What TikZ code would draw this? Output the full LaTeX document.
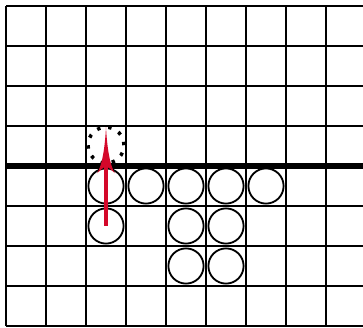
\documentclass[tikz,border=0pt]{standalone}
\usetikzlibrary{calc}
\definecolor{arrowred}{RGB}{212,8,42}
\tikzset{
  gridline/.style={line width=1.45pt, black},
  barline/.style={line width=3.8pt, black},
  stone/.style={circle, draw, line width=1.3pt, minimum size=0.88cm, inner sep=0pt},
  ghost/.style={circle, draw, line width=2.5pt, minimum size=0.9cm, inner sep=0pt,
    dash pattern=on 0.085cm off 0.1977cm},
  shaft/.style={line width=2.3pt, arrowred},
}
\begin{document}
\begin{tikzpicture}
\useasboundingbox (-0.15,-0.025) rectangle (8.925,8.15);
% grid
\foreach \i in {0,...,8} {
  \draw[gridline] (\i,0) -- (\i,8);
  \draw[gridline] (0,\i) -- (8.925,\i);
}
\draw[barline] (0,4) -- (8.925,4);
% stones
\node[stone] (s1) at (2.5,3.5) {};
\node[stone] (s2) at (3.5,3.5) {};
\node[stone] (s3) at (4.5,3.5) {};
\node[stone] (s4) at (5.5,3.5) {};
\node[stone] (s5) at (6.5,3.5) {};
\node[stone] (s6) at (2.5,2.5) {};
\node[stone] (s7) at (4.5,2.5) {};
\node[stone] (s8) at (5.5,2.5) {};
\node[stone] (s9) at (4.5,1.5) {};
\node[stone] (s10) at (5.5,1.5) {};
% target
\node[ghost] (g) at (2.5,4.52) {};
% arrow
\coordinate (tip) at (2.5,4.97);
\draw[shaft] (s6.center) -- ($(tip)+(0,-0.8)$);
\fill[arrowred] (tip)
  .. controls ($(tip)+(-0.03,-0.55)$) and ($(tip)+(-0.1,-0.95)$) .. ($(tip)+(-0.22,-1.15)$)
  .. controls ($(tip)+(-0.12,-1.05)$) and ($(tip)+(-0.05,-1.0)$) .. ($(tip)+(0,-0.97)$)
  .. controls ($(tip)+(0.05,-1.0)$) and ($(tip)+(0.12,-1.05)$) .. ($(tip)+(0.22,-1.15)$)
  .. controls ($(tip)+(0.1,-0.95)$) and ($(tip)+(0.03,-0.55)$) .. (tip) -- cycle;
\end{tikzpicture}
\end{document}
